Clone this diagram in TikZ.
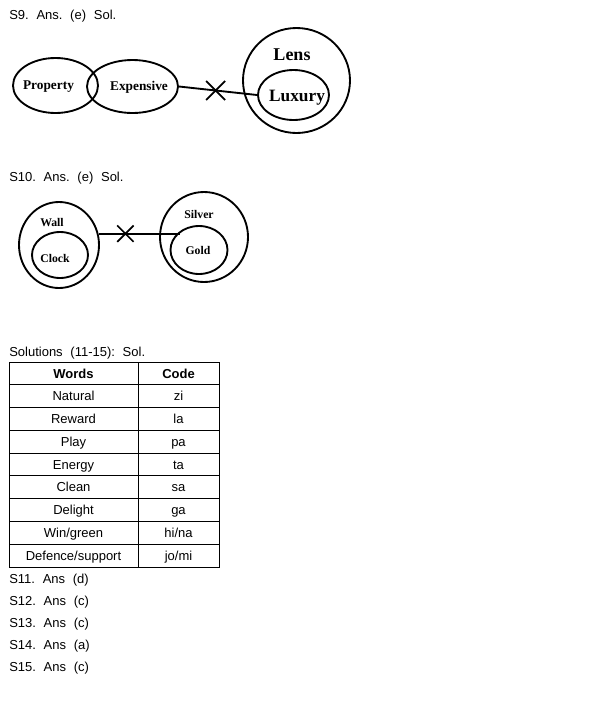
\documentclass[tikz,border=0pt]{standalone}
\usepackage{fontspec}
\setmainfont{Liberation Sans}
\newfontfamily\diagfont{Liberation Serif}
\usetikzlibrary{shapes.geometric,shapes.misc,positioning}
\newcommand{\widegap}{\spaceskip=5.8pt\relax\xspaceskip=5.8pt\relax}
\tikzset{%
	blob/.style   = {draw, ellipse, line width=1.4pt, inner sep=0pt},
	word/.style   = {anchor=base, inner sep=0pt, font=\diagfont\bfseries},
	link/.style   = {line width=1.4pt},
	nope/.style   = {draw, cross out, line width=1.3pt, inner sep=0pt, minimum width=11pt, minimum height=11pt},
	answer/.style = {anchor=base west, inner sep=0pt, font=\fontsize{9.75}{12}\selectfont, execute at begin node=\widegap},
	cell/.style   = {inner sep=0pt, font=\fontsize{9.75}{12}\selectfont},
}

\begin{document}
\begin{tikzpicture}[x=0.75pt,y=-0.75pt]
		\useasboundingbox (0,0) rectangle (589,704);
		% S9
		\node[answer] (s9) at (9,19) {S9. Ans. (e) Sol.};
		\node[blob, minimum width=63.75pt, minimum height=41.25pt] (property) at (55.5,85.5) {};
		\node[blob, minimum width=68.25pt, minimum height=39.75pt] (expensive) at (132.5,86.5) {};
		\node[blob, minimum width=80.25pt, minimum height=78.75pt] (lens) at (296.5,80.5) {};
		\node[blob, minimum width=53.25pt, minimum height=37.5pt] (luxury) at (293.5,95) {};
		\node[word, font=\diagfont\bfseries\fontsize{10}{12}\selectfont] at (48.5,89) {Property};
		\node[word, font=\diagfont\bfseries\fontsize{10}{12}\selectfont] at (139,90) {Expensive};
		\node[word, font=\diagfont\bfseries\fontsize{13.5}{15}\selectfont] at (292,60) {Lens};
		\node[word, font=\diagfont\bfseries\fontsize{13}{15}\selectfont] at (297,101.5) {Luxury};
		\draw[link] (expensive.east) -- node[nope, minimum width=13pt, minimum height=13pt, pos=0.47] {} (luxury.west);
		% S10
		\node[answer] (s10) at (9,181) {S10. Ans. (e) Sol.};
		\node[blob, minimum width=60pt, minimum height=64.5pt] (wall) at (59,245) {};
		\node[blob, minimum width=42pt, minimum height=34.5pt] (clock) at (60,255) {};
		\node[blob, minimum width=66pt, minimum height=67.5pt] (silver) at (204,237) {};
		\node[blob, minimum width=42.75pt, minimum height=36pt] (gold) at (199,250) {};
		\node[word, font=\diagfont\bfseries\fontsize{8.8}{10}\selectfont] at (52,226.5) {Wall};
		\node[word, font=\diagfont\bfseries\fontsize{8.8}{10}\selectfont] at (55,262.5) {Clock};
		\node[word, font=\diagfont\bfseries\fontsize{8.8}{10}\selectfont] at (199,218) {Silver};
		\node[word, font=\diagfont\bfseries\fontsize{8.8}{10}\selectfont] at (198,254) {Gold};
		\draw[link] (wall.16) -- node[nope, pos=0.33] {} (wall.16 -| gold.135);
		% Solutions 11-15
		\node[answer] (sol) at (9,356) {Solutions (11-15): Sol.};
		\draw[line width=0.75pt] (9,362) rectangle (219,567);
		\draw[line width=0.75pt] (138,362) -- (138,567);
		\foreach \r in {1,...,8}
			\draw[line width=0.75pt] (9,362+22.78*\r) -- (219,362+22.78*\r);
		\node[cell, font=\fontsize{9.75}{12}\selectfont\bfseries] (words) at (73.5,374) {Words};
		\node[cell, font=\fontsize{9.75}{12}\selectfont\bfseries] (code) at (178.5,374) {Code};
		\foreach \w/\c [count=\r] in {Natural/zi, Reward/la, Play/pa, Energy/ta, Clean/sa, Delight/ga, Win\slash green/hi\slash na, Defence\slash support/jo\slash mi}
		{
			\node[cell, anchor=base] (w\r) at (73.5,366+22.78*\r+12) {\w};
			\node[cell, anchor=base] (c\r) at (178.5,366+22.78*\r+12) {\c};
		}
		% answers
		\foreach \q/\a [count=\i from 0] in {11/d, 12/c, 13/c, 14/a, 15/c}
			\node[answer] (s\q) at (9,583+22*\i) {S\q. Ans (\a)};
\end{tikzpicture}
\end{document}
